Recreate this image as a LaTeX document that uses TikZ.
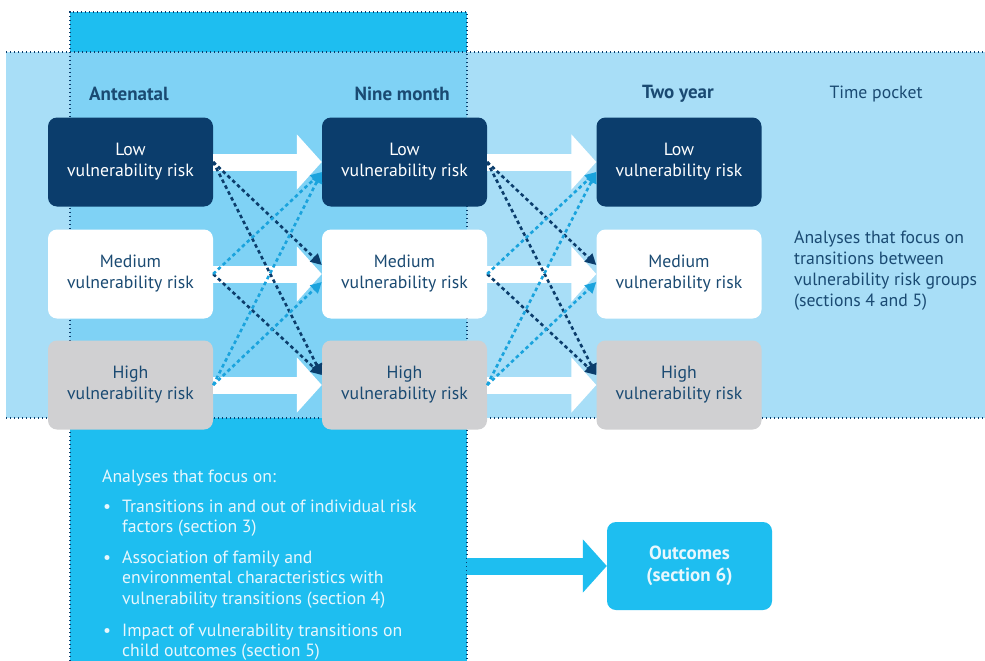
\documentclass[tikz,border=0pt]{standalone}
\usepackage{fontspec}
\setmainfont{PT Sans}
\usetikzlibrary{arrows.meta,calc}
\definecolor{navy}{HTML}{0B3D6C}
\definecolor{txtblue}{HTML}{1A4A72}
\definecolor{cyanc}{HTML}{1EBEF0}
\definecolor{bandc}{HTML}{A8DEF7}
\definecolor{overc}{HTML}{7FD2F5}
\definecolor{grayc}{HTML}{D0D0D2}
\definecolor{dashcyan}{HTML}{1AA3DD}
\definecolor{paletxt}{HTML}{E8F7FD}
\begin{document}
\begin{tikzpicture}[x=1pt,y=-1pt,
  font=\fontsize{17.7}{21}\selectfont,
  box/.style={rounded corners=9pt, minimum width=165pt, minimum height=89pt, align=center, inner sep=0pt},
  lowbox/.style={box, fill=navy, text=white},
  medbox/.style={box, fill=white, text=txtblue},
  highbox/.style={box, fill=grayc, text=txtblue},
  hdr/.style={font=\fontsize{19}{21}\selectfont\bfseries, text=txtblue, inner sep=0pt},
  plain/.style={text=txtblue, inner sep=0pt},
  dotline/.style={navy, line width=1.4pt, dash pattern=on 1.3pt off 2.7pt},
  bigarrow/.style={white, line width=17pt, -{Triangle[length=25pt,width=54pt]}},
  cyanarrow/.style={cyanc, line width=17pt, -{Triangle[length=24pt,width=52pt]}},
  darkdash/.style={navy, line width=2.6pt, dash pattern=on 3.6pt off 3pt, -{Triangle[length=11pt,width=11pt]}},
  cyandash/.style={dashcyan, line width=2.6pt, dash pattern=on 3.6pt off 3pt, -{Triangle[length=11pt,width=11pt]}},
  listtxt/.style={text=paletxt, inner sep=0pt, anchor=base west},
]
\useasboundingbox (0,0) rectangle (985,661);
\fill[white] (0,0) rectangle (985,661);
% background areas
\fill[cyanc] (70,12) rectangle (467,661);
\fill[bandc] (6,52) rectangle (985,418);
\fill[overc] (70,52) rectangle (467,418);
\draw[dotline] (6,52) -- (985,52);
\draw[dotline] (6,418) -- (985,418);
\draw[dotline] (70,661) -- (70,12) -- (467,12) -- (467,661);

% headers
\node[hdr, anchor=west] (h1) at (89,94) {Antenatal};
\node[hdr, anchor=east] (h2) at (450,94) {Nine month};
\node[hdr] (h3) at (678,94) {Two year};
\node[plain] (h4) at (876,94) {Time pocket};

% boxes
\node[lowbox]  (an1) at (130.5,162) {Low\\vulnerability risk};
\node[medbox]  (an2) at (130.5,274) {Medium\\vulnerability risk};
\node[highbox] (an3) at (130.5,385) {High\\vulnerability risk};
\node[lowbox]  (nm1) at (404.5,162) {Low\\vulnerability risk};
\node[medbox]  (nm2) at (404.5,274) {Medium\\vulnerability risk};
\node[highbox] (nm3) at (404.5,385) {High\\vulnerability risk};
\node[lowbox]  (ty1) at (679,162) {Low\\vulnerability risk};
\node[medbox]  (ty2) at (679,274) {Medium\\vulnerability risk};
\node[highbox] (ty3) at (679,385) {High\\vulnerability risk};

% right text
\node[plain, anchor=north west, align=left] (rt) at (794,231)
  {Analyses that focus on\\transitions between\\vulnerability risk groups\\(sections 4 and 5)};

% white block arrows
\foreach \s/\t in {an1/nm1, an2/nm2, an3/nm3, nm1/ty1, nm2/ty2, nm3/ty3}
  \draw[bigarrow] (\s.east) -- (\t.west);

% dashed transitions
\foreach \p/\q in {an/nm, nm/ty}{
  \draw[darkdash] (\p1.east) -- ([yshift=9pt]\q2.west);
  \draw[darkdash] (\p1.east) -- ([yshift=10pt]\q3.west);
  \draw[darkdash] (\p2.east) -- ([yshift=10pt]\q3.west);
  \draw[cyandash] (\p2.east) -- ([yshift=-10pt]\q1.west);
  \draw[cyandash] (\p3.east) -- ([yshift=-10pt]\q1.west);
  \draw[cyandash] (\p3.east) -- ([yshift=-8pt]\q2.west);
}

% outcomes
\node[box, fill=cyanc, text=paletxt, font=\fontsize{19}{21.5}\selectfont\bfseries, minimum height=88pt] (out) at (689.5,566) {Outcomes\\(section 6)};
\coordinate (colr) at (467,566);
\draw[cyanarrow] (colr) -- (out.west);

% bottom list
\node[listtxt] (lh) at (102,482) {Analyses that focus on:};
\node[listtxt] (bu1) at (103,512) {\textbullet};
\node[listtxt] (l1a) at (122,512) {Transitions in and out of individual risk};
\node[listtxt] (l1b) at (122,532.5) {factors (section 3)};
\node[listtxt] (bu2) at (103,563) {\textbullet};
\node[listtxt] (l2a) at (122,563) {Association of family and};
\node[listtxt] (l2b) at (122,583.5) {environmental characteristics with};
\node[listtxt] (l2c) at (122,604) {vulnerability transitions (section 4)};
\node[listtxt] (bu3) at (103,636) {\textbullet};
\node[listtxt] (l3a) at (122,636) {Impact of vulnerability transitions on};
\node[listtxt] (l3b) at (122,656.5) {child outcomes (section 5)};
\end{tikzpicture}
\end{document}
